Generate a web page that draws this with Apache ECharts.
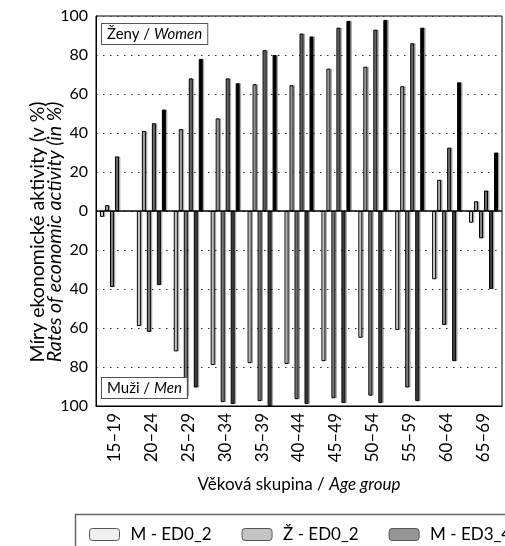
<!DOCTYPE html>
<html>
<head>
<meta charset="utf-8">
<script src="https://cdn.jsdelivr.net/npm/echarts@6/dist/echarts.min.js"></script>
<style>
html,body{margin:0;padding:0;background:#fff;}
#chart{width:505px;height:546px;}
</style>
</head>
<body>
<div id="chart"></div>
<script>
const categories = ['15–19','20–24','25–29','30–34','35–39','40–44','45–49','50–54','55–59','60–64','65–69'];
// Men (plotted downward) and women (plotted upward), rates in %
const mED0_2 = [3, 59, 72, 79, 78, 78.5, 77, 65, 61, 35, 6];
const zED0_2 = [3, 41, 42, 47.5, 65, 64.5, 73, 74, 64, 16, 5];
const mED3_4 = [39, 62, 95, 98, 97.5, 96.5, 96, 94.7, 90.5, 58.5, 14];
const zED3_4 = [28, 45, 68, 68, 82.5, 91, 94, 93, 86, 32.5, 10.5];
const mED5_8 = [null, 38, 90.5, 99, 100, 99, 98.5, 98.5, 97.5, 77, 40];
const zED5_8 = [null, 52, 78, 65.5, 80, 89.5, 97.5, 98, 94, 66, 30];
const yTitle1 = 'Míry ekonomické aktivity (v %)';
const yTitle2 = 'Rates of economic activity (in %)';

const FONT = 'Lato';
const neg = a => a.map(v => v == null ? null : -v);

const seriesDefs = [
  {name:'M - ED0_2', data: neg(mED0_2), color:'#efefef'},
  {name:'Ž - ED0_2', data: zED0_2, color:'#c4c4c4'},
  {name:'M - ED3_4', data: neg(mED3_4), color:'#969696'},
  {name:'Ž - ED3_4', data: zED3_4, color:'#7c7c7c'},
  {name:'M - ED5_8', data: neg(mED5_8), color:'#4a4a4a'},
  {name:'Ž - ED5_8', data: zED5_8, color:'#000000'}
];

const series = seriesDefs.map((s, i) => ({
  name: s.name,
  type: 'bar',
  data: s.data,
  barWidth: 4,
  barGap: '25%',
  itemStyle: {
    color: s.color,
    borderColor: '#000',
    borderWidth: 1,
    shadowColor: 'rgba(0,0,0,0.25)',
    shadowOffsetX: 1.5,
    shadowBlur: 0
  },
  markLine: i === 0 ? {
    silent: true, symbol: 'none', label: {show:false},
    lineStyle: {color:'#000', type:'solid', width:1.5},
    data: [{yAxis: 0}]
  } : undefined
}));

const chart = echarts.init(document.getElementById('chart'), null, {renderer:'canvas'});
chart.setOption({
  animation: false,
  textStyle: {fontFamily: FONT},
  grid: {left: 96, right: 3, top: 16, bottom: 140, show: true, borderColor: '#000', borderWidth: 1, backgroundColor: 'transparent'},
  legend: {
    left: 84, top: 521, width: 1200,
    itemWidth: 30, itemHeight: 12, itemGap: 30,
    textStyle: {fontFamily: FONT, fontSize: 17, color: '#000', padding: [0,0,0,6]},
    itemStyle: {borderColor: '#555', borderWidth: 1, shadowBlur:0, shadowOffsetX:0, shadowColor:'transparent'},
    data: seriesDefs.map(s => s.name)
  },
  xAxis: {
    type: 'category',
    data: categories,
    axisLine: {onZero: false, lineStyle: {color:'#000'}},
    axisTick: {show: false},
    axisLabel: {rotate: 90, fontSize: 17, color: '#000', fontFamily: FONT, margin: 7},
    name: '{a|Věková skupina / }{b|Age group}',
    nameLocation: 'middle',
    nameGap: 70,
    nameTextStyle: {
      rich: {
        a: {fontSize: 17, color:'#000', fontFamily: FONT},
        b: {fontSize: 17, color:'#000', fontFamily: FONT, fontStyle:'italic'}
      }
    }
  },
  yAxis: {
    type: 'value',
    min: -100, max: 100, interval: 20,
    axisLine: {show: true, lineStyle: {color:'#000'}},
    axisTick: {show: false},
    axisLabel: {fontSize: 16, color:'#000', fontFamily: FONT, margin: 8, formatter: v => String(Math.abs(v))},
    splitLine: {show: true, lineStyle: {color:'#333', type:[1.5,5.5], width:1}}
  },
  graphic: [
    {
      type: 'text', x: 38, y: 232, rotation: Math.PI / 2, silent: true,
      style: {text: yTitle1, fontSize: 19.5, fontFamily: FONT, fill: '#000', align: 'center', verticalAlign: 'middle'}
    },
    {
      type: 'text', x: 55, y: 232, rotation: Math.PI / 2, silent: true,
      style: {text: yTitle2, fontSize: 19.5, fontFamily: FONT, fontStyle: 'italic', fill: '#000', align: 'center', verticalAlign: 'middle'}
    },
    {
      type: 'rect', left: 73, top: 512, z: -1, silent: true,
      shape: {width: 500, height: 60},
      style: {fill: 'none', stroke: '#666', lineWidth: 1.5}
    },
    {
      type: 'text', left: 101, top: 23, z: 10,
      style: {
        text: '{a|Ženy / }{b|Women}',
        rich: {
          a: {fontSize: 15, fill:'#000', fontFamily: FONT},
          b: {fontSize: 15, fill:'#000', fontFamily: FONT, fontStyle:'italic'}
        },
        backgroundColor: '#fff', borderColor: '#555', borderWidth: 1, padding: [3,5,2,5]
      }
    },
    {
      type: 'text', left: 101, top: 377, z: 10,
      style: {
        text: '{a|Muži / }{b|Men}',
        rich: {
          a: {fontSize: 15, fill:'#000', fontFamily: FONT},
          b: {fontSize: 15, fill:'#000', fontFamily: FONT, fontStyle:'italic'}
        },
        backgroundColor: '#fff', borderColor: '#555', borderWidth: 1, padding: [3,5,2,5]
      }
    }
  ],
  series: series
});
</script>
</body>
</html>
